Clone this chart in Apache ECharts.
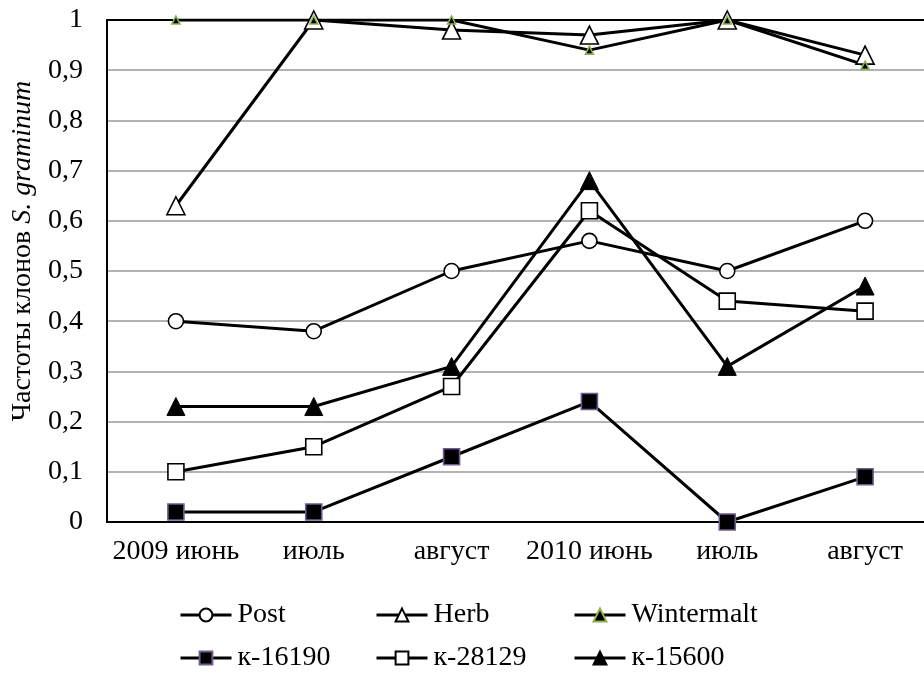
<!DOCTYPE html>
<html>
<head>
<meta charset="utf-8">
<script src="https://cdn.jsdelivr.net/npm/echarts@6/dist/echarts.min.js"></script>
<style>
html,body{margin:0;padding:0;background:#fff;}
#c{width:924px;height:677px;}
</style>
</head>
<body>
<div id="c"></div>
<script>
const categories = ['2009 июнь', 'июль', 'август', '2010 июнь', 'июль', 'август'];
const yTicks = [0, 0.1, 0.2, 0.3, 0.4, 0.5, 0.6, 0.7, 0.8, 0.9, 1];
const post = [0.40, 0.38, 0.50, 0.56, 0.50, 0.60];
const herb = [0.63, 1.00, 0.98, 0.97, 1.00, 0.93];
const wintermalt = [1.00, 1.00, 1.00, 0.94, 1.00, 0.91];
const k16190 = [0.02, 0.02, 0.13, 0.24, 0.00, 0.09];
const k28129 = [0.10, 0.15, 0.27, 0.62, 0.44, 0.42];
const k15600 = [0.23, 0.23, 0.31, 0.68, 0.31, 0.47];

const FONT = '"Liberation Serif", "Times New Roman", serif';
const FS = 28;

function mk(name, data, symbol, size, fill, border, bw) {
  return {
    name: name, type: 'line', data: data,
    symbol: symbol, symbolSize: size,
    lineStyle: {color: '#000', width: 3},
    itemStyle: {color: fill, borderColor: border, borderWidth: bw},
    emphasis: {disabled: true},
    animation: false
  };
}

const series = [
  mk('Post', post, 'circle', 15, '#fff', '#000', 1.6),
  mk('Herb', herb, 'triangle', 18, '#fff', '#000', 1.6),
  mk('Wintermalt', wintermalt, 'triangle', 8, '#000', '#8fae4e', 1.6),
  mk('к-16190', k16190, 'rect', 16, '#000', '#6f5b90', 1.6),
  mk('к-28129', k28129, 'rect', 16, '#fff', '#000', 1.6),
  mk('к-15600', k15600, 'triangle', 18, '#000', '#000', 1)
];

const legendPos = [
  {name: 'Post', left: 174, top: 596},
  {name: 'Herb', left: 370, top: 596},
  {name: 'Wintermalt', left: 568, top: 596},
  {name: 'к-16190', left: 174, top: 639},
  {name: 'к-28129', left: 370, top: 639},
  {name: 'к-15600', left: 568, top: 639}
];

const legends = legendPos.map(p => ({
  data: [p.name], left: p.left, top: p.top,
  itemWidth: 51, itemHeight: 16, itemGap: 0,
  lineStyle: {width: 3},
  textStyle: {fontFamily: FONT, fontSize: FS, color: '#000', padding: [0,0,0,1]},
  selectedMode: false
}));

const chart = echarts.init(document.getElementById('c'), null, {renderer: 'canvas'});
chart.setOption({
  backgroundColor: '#fff',
  animation: false,
  grid: {left: 107, width: 827, top: 20, height: 502, containLabel: false, outerBoundsMode: 'none'},
  legend: legends,
  xAxis: [{
    type: 'category', data: categories, boundaryGap: true,
    axisLine: {show: true, lineStyle: {color: '#000', width: 2}},
    axisTick: {show: false},
    axisLabel: {fontFamily: FONT, fontSize: FS, color: '#000', margin: 16, interval: 0}
  }, {
    type: 'category', data: categories, position: 'top',
    axisLine: {show: true, lineStyle: {color: '#000', width: 2}},
    axisTick: {show: false}, axisLabel: {show: false}
  }],
  yAxis: {
    type: 'value', min: yTicks[0], max: yTicks[yTicks.length - 1], interval: 0.1,
    axisLine: {show: true, lineStyle: {color: '#000', width: 2}},
    axisTick: {show: false},
    splitLine: {show: true, lineStyle: {color: '#9a9a9a', width: 1.5}},
    axisLabel: {
      fontFamily: FONT, fontSize: FS, color: '#000', margin: 24,
      formatter: v => String(Math.round(v * 10) / 10).replace('.', ',')
    },
    name: '{a|Частоты клонов }{b|S. graminum}',
    nameLocation: 'middle', nameRotate: 90, nameGap: 70,
    nameTextStyle: {
      fontFamily: FONT, fontSize: FS, color: '#000',
      padding: [0, 0, 0, 40],
      rich: {
        a: {fontFamily: FONT, fontSize: FS, color: '#000'},
        b: {fontFamily: FONT, fontSize: FS, color: '#000', fontStyle: 'italic'}
      }
    }
  },
  series: series
});
</script>
</body>
</html>
